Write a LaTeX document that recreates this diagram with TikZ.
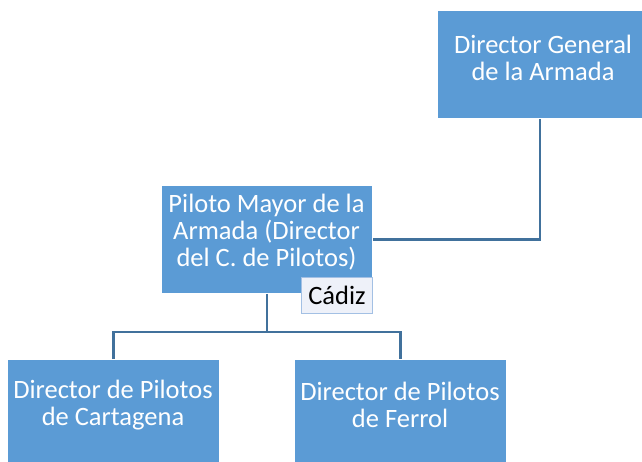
\documentclass[tikz,border=0pt]{standalone}
\usepackage{fontspec}
\setmainfont{Carlito}
\definecolor{boxblue}{HTML}{5B9BD5}
\definecolor{lineblue}{HTML}{41719C}
\definecolor{tagfill}{HTML}{EEF1F9}
\definecolor{tagborder}{HTML}{A3C0E4}
\begin{document}
\begin{tikzpicture}[x=1pt,y=-1pt,
  orgbox/.style={draw=white,line width=0.8pt,fill=boxblue,anchor=north west,inner sep=0pt},
  orgtext/.style={text=white,align=center,font=\fontsize{26.5}{27}\selectfont,inner sep=0pt},
  tag/.style={draw=tagborder,line width=1pt,fill=tagfill,anchor=north west,inner sep=0pt,minimum width=71pt,minimum height=36pt,font=\fontsize{26.5}{27}\selectfont},
  conn/.style={draw=lineblue,line width=2.6pt}]
\useasboundingbox[fill=white] (0,0) rectangle (642,461);
% boxes
\node[orgbox,minimum width=205pt,minimum height=108pt] (dg) at (437,10) {};
\node[orgbox,minimum width=211pt,minimum height=108pt] (pm) at (161,185) {};
\node[orgbox,minimum width=212pt,minimum height=110pt] (ca) at (7,359) {};
\node[orgbox,minimum width=212pt,minimum height=110pt] (fe) at (294,359) {};
% connectors
\coordinate (j1) at (dg.south |- pm.east);
\draw[conn] (dg.south) -- (j1) -- (pm.east);
\coordinate (bus) at (0,332);
\draw[conn] (pm.south) -- (pm.south |- bus);
\draw[conn] (ca.north) -- (ca.north |- bus) -- (fe.north |- bus) -- (fe.north);
% texts
\node[orgtext] (dgt) at (543,58) {Director General\\de la Armada};
\node[orgtext] (pmt) at (266.5,232) {Piloto Mayor de la\\Armada (Director\\del C. de Pilotos)};
\node[orgtext] (cat) at (113,405) {Director de Pilotos\\de Cartagena};
\node[orgtext] (fet) at (400,405) {Director de Pilotos\\de Ferrol};
\node[tag] (cadiz) at (301,277) {Cádiz};
\end{tikzpicture}
\end{document}
